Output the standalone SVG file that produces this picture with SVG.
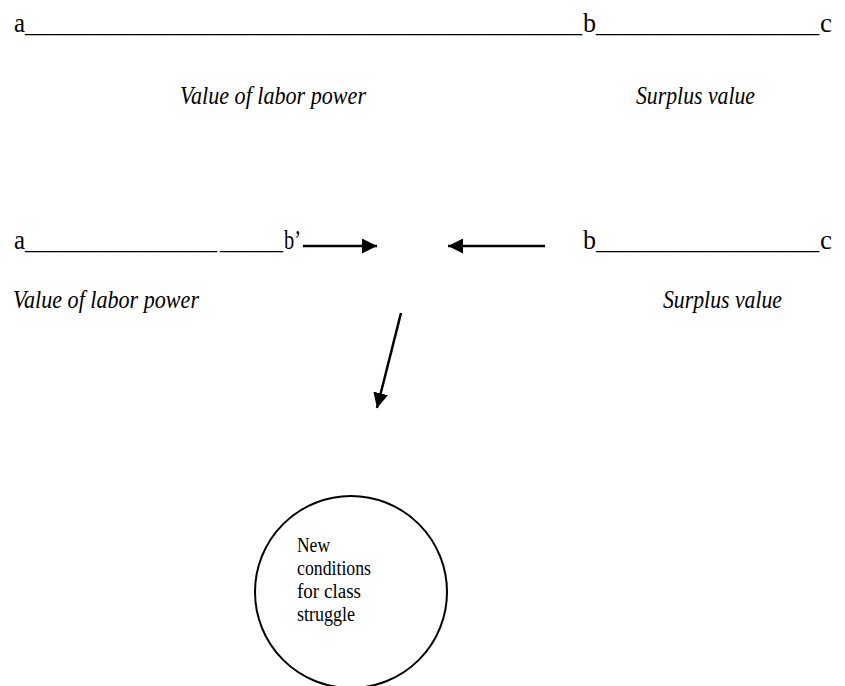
<svg xmlns="http://www.w3.org/2000/svg" width="845" height="686" viewBox="0 0 845 686">
<style>
.t{font-family:"Liberation Serif","Times New Roman",serif;font-size:27px;fill:#000}
.i{font-family:"Liberation Serif","Times New Roman",serif;font-size:25px;font-style:italic;fill:#000}
.c{font-family:"Liberation Serif","Times New Roman",serif;font-size:20px;fill:#000}
.arr{stroke:#000;stroke-width:2.5;fill:none}
</style>
<defs>
<marker id="ah" viewBox="0 0 10 10" refX="10" refY="5" markerWidth="6" markerHeight="6" markerUnits="strokeWidth" orient="auto">
<path d="M0,0 L10,5 L0,10 z" fill="#000"/>
</marker>
</defs>
<g id="row1">
<text class="t" y="32"><tspan x="14" textLength="11" lengthAdjust="spacingAndGlyphs">a</tspan><tspan x="25" textLength="557" lengthAdjust="spacingAndGlyphs">_________________________________________</tspan><tspan x="583" textLength="13" lengthAdjust="spacingAndGlyphs">b</tspan><tspan x="596" textLength="223" lengthAdjust="spacingAndGlyphs">_________________</tspan><tspan x="820" textLength="12" lengthAdjust="spacingAndGlyphs">c</tspan></text>
</g>
<g id="labels1">
<text class="i" x="180" y="104" textLength="186" lengthAdjust="spacingAndGlyphs">Value of labor power</text>
<text class="i" x="636" y="104" textLength="119" lengthAdjust="spacingAndGlyphs">Surplus value</text>
</g>
<g id="row2-left">
<text class="t" y="249"><tspan x="14" textLength="11" lengthAdjust="spacingAndGlyphs">a</tspan><tspan x="25" textLength="192" lengthAdjust="spacingAndGlyphs">______________</tspan><tspan x="220" textLength="63" lengthAdjust="spacingAndGlyphs">_____</tspan><tspan x="284" textLength="17" lengthAdjust="spacingAndGlyphs">b’</tspan></text>
</g>
<g id="row2-right">
<text class="t" y="249"><tspan x="583" textLength="13" lengthAdjust="spacingAndGlyphs">b</tspan><tspan x="596" textLength="223" lengthAdjust="spacingAndGlyphs">_________________</tspan><tspan x="820" textLength="12" lengthAdjust="spacingAndGlyphs">c</tspan></text>
</g>
<g id="labels2">
<text class="i" x="13" y="308" textLength="186" lengthAdjust="spacingAndGlyphs">Value of labor power</text>
<text class="i" x="663" y="308" textLength="119" lengthAdjust="spacingAndGlyphs">Surplus value</text>
</g>
<g id="connectors">
<line class="arr" x1="303" y1="246" x2="377" y2="246" marker-end="url(#ah)"/>
<line class="arr" x1="545" y1="246" x2="448" y2="246" marker-end="url(#ah)"/>
<line class="arr" x1="401" y1="313" x2="377" y2="408" marker-end="url(#ah)"/>
</g>
<g id="circle-node">
<circle cx="351" cy="592" r="96" fill="none" stroke="#000" stroke-width="2"/>
<text class="c" x="297" y="552" textLength="33" lengthAdjust="spacingAndGlyphs">New</text>
<text class="c" x="297" y="575" textLength="74" lengthAdjust="spacingAndGlyphs">conditions</text>
<text class="c" x="297" y="598" textLength="64" lengthAdjust="spacingAndGlyphs">for class</text>
<text class="c" x="297" y="621" textLength="58" lengthAdjust="spacingAndGlyphs">struggle</text>
</g>
</svg>
